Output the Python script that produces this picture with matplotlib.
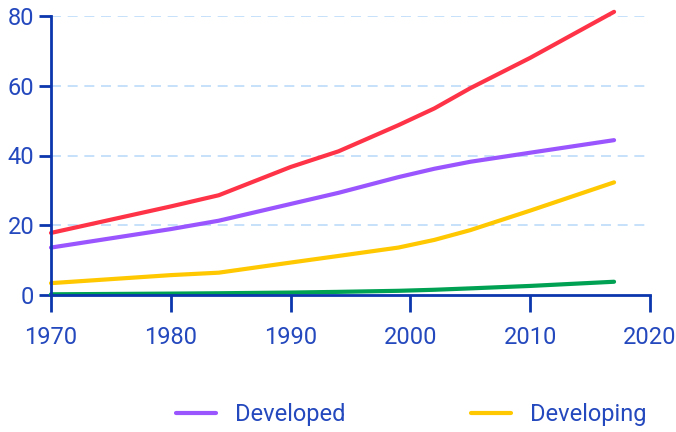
import matplotlib
matplotlib.use("Agg")
import matplotlib.pyplot as plt

# Series data (values per year)
years = [1970, 1980, 1984, 1990, 1994, 1999, 2002, 2005, 2010, 2017]
world = [17.8, 25.4, 28.6, 36.7, 41.2, 48.7, 53.5, 59.3, 68.0, 81.2]
developed = [13.6, 18.9, 21.3, 26.1, 29.3, 33.8, 36.2, 38.2, 40.8, 44.4]
developing = [3.4, 5.7, 6.4, 9.3, 11.2, 13.6, 15.8, 18.6, 24.2, 32.3]
least_developed = [0.2, 0.4, 0.5, 0.7, 0.9, 1.2, 1.5, 1.9, 2.6, 3.8]

x_ticks = [1970, 1980, 1990, 2000, 2010, 2020]
y_ticks = [0, 20, 40, 60, 80]

axis_blue = "#0b36ad"
label_blue = "#2448bd"

plt.rcParams["font.family"] = ["Roboto", "DejaVu Sans"]

fig = plt.figure(figsize=(6.76, 4.32), dpi=100)
ax = fig.add_axes([51 / 676, 1 - 295 / 432, (650 - 51) / 676, (295 - 16) / 432])

lw = 3.0
style = dict(lw=lw, solid_capstyle="round", solid_joinstyle="round", zorder=3, clip_on=False)
ax.plot(years, world, color="#ff3347", **style)
ax.plot(years, developed, color="#9a55ff", label="Developed", **style)
ax.plot(years, developing, color="#ffc800", label="Developing", **style)
ax.plot(years, least_developed, color="#00a152", **style)

ax.set_xlim(1970, 2020)
ax.set_ylim(0, 80)
ax.set_xticks(x_ticks)
ax.set_yticks(y_ticks)

for y in y_ticks[1:]:
    ax.axhline(y, color="#bcdcfb", lw=1.2, dashes=(6, 4), zorder=1)

for side in ("top", "right"):
    ax.spines[side].set_visible(False)
for side in ("left", "bottom"):
    ax.spines[side].set_color(axis_blue)
    ax.spines[side].set_linewidth(2.0)
    ax.spines[side].set_zorder(4)

ax.tick_params(axis="y", length=9, width=2.0, color=axis_blue, pad=3,
               labelsize=17, labelcolor=label_blue)
ax.tick_params(axis="x", length=12.5, width=2.0, color=axis_blue, pad=10,
               labelsize=17, labelcolor=label_blue)

leg = fig.legend(loc="center", bbox_to_anchor=(0.608, 1 - 415 / 432), ncol=2,
                 frameon=False, handlelength=1.7, handletextpad=0.8,
                 columnspacing=5.3, prop={"size": 17})
for t in leg.get_texts():
    t.set_color(label_blue)

fig.savefig("out.png", dpi=100)
